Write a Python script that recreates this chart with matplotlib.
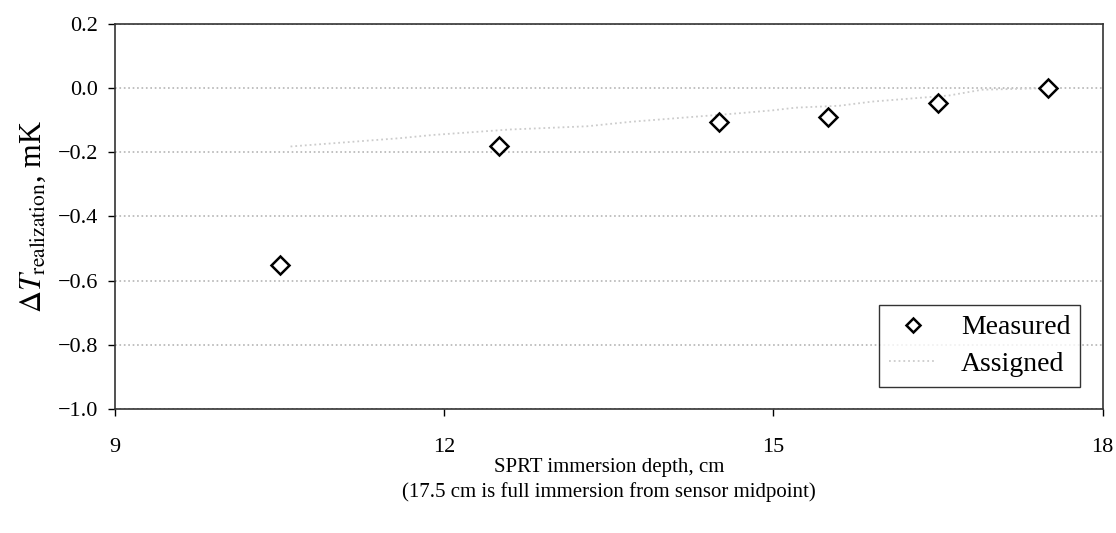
import matplotlib
matplotlib.use('Agg')
from matplotlib import pyplot as plt

# measured points (immersion depth in cm, deviation in mK)
depth = [10.5, 12.5, 14.5, 15.5, 16.5, 17.5]
dT_measured = [-0.55, -0.18, -0.105, -0.09, -0.045, 0.0]

# assigned curve
depth_assigned = [10.6, 11.1, 11.6, 11.9, 12.6, 13.3, 13.7, 14.7, 15.0, 15.2, 15.6, 15.9, 16.6, 16.9, 17.5]
dT_assigned = [-0.182, -0.169, -0.156, -0.146, -0.129, -0.119, -0.105, -0.078, -0.069, -0.061, -0.055, -0.042, -0.023, -0.005, 0.0]

xticks = [9, 12, 15, 18]
yticks = [0.2, 0.0, -0.2, -0.4, -0.6, -0.8, -1.0]

plt.rcParams['font.family'] = ['Liberation Serif', 'DejaVu Serif']
plt.rcParams['mathtext.fontset'] = 'stix'

fig = plt.figure(figsize=(11.16, 5.33), dpi=100)
ax = fig.add_axes([0.103, 0.233, 0.885, 0.722])

ax.plot(depth, dT_measured, linestyle='none', marker='D', markersize=9,
        markerfacecolor='white', markeredgecolor='black', markeredgewidth=1.8,
        label='Measured', zorder=3)
ax.plot(depth_assigned, dT_assigned, linestyle=':', color='#cccccc', linewidth=1.3,
        label='Assigned', zorder=2)

ax.set_xlim(9, 18)
ax.set_ylim(-1.0, 0.2)
ax.set_xticks(xticks)
ax.set_yticks(yticks)
ax.set_xticklabels([str(t) for t in xticks])
ax.set_yticklabels([('%.1f' % t).replace('-', '\u2212') for t in yticks])

ax.yaxis.grid(True, linestyle=':', color='#b5b5b5', linewidth=1.2)
ax.set_axisbelow(True)

for s in ax.spines.values():
    s.set_linewidth(1.2)
    s.set_color('#333333')

ax.tick_params(axis='x', direction='out', length=5, width=1, pad=16, labelsize=16)
ax.tick_params(axis='y', direction='out', length=5, width=1, pad=7, labelsize=16)

ax.set_xlabel('SPRT immersion depth, cm\n(17.5 cm is full immersion from sensor midpoint)',
              fontsize=15, labelpad=1, linespacing=1.3)
ax.set_ylabel(r'$\Delta T_{\mathrm{realization}}$, mK', fontsize=22, labelpad=7)

leg = ax.legend(loc='lower right', fontsize=20, frameon=True, fancybox=False,
                edgecolor='black', handlelength=1.7, handletextpad=0.9,
                borderaxespad=0.8, borderpad=0.35, labelspacing=0.4, markerscale=0.75)
leg.get_frame().set_linewidth(1.0)

plt.savefig('out.png', dpi=100)
